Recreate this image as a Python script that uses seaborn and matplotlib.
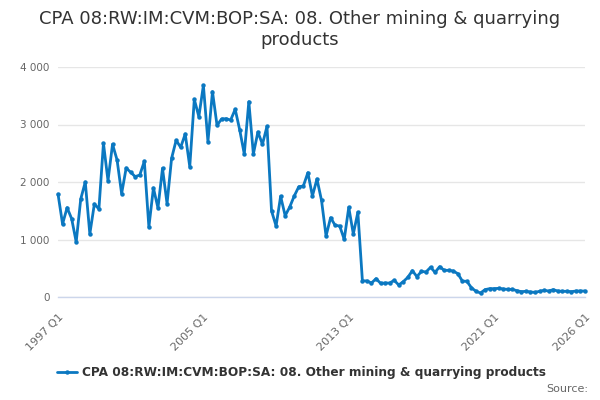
import numpy as np
import pandas as pd
import matplotlib
matplotlib.use("Agg")
import matplotlib.pyplot as plt
import seaborn as sns

start_year = 1997
end_year = 2026

values = [
    1790, 1270, 1553, 1362, 957, 1704, 2000, 1096, 1617, 1530,
    2673, 2023, 2656, 2383, 1797, 2243, 2168, 2093, 2122, 2360,
    1217, 1896, 1548, 2238, 1623, 2412, 2725, 2603, 2835, 2267,
    3438, 3136, 3681, 2703, 3571, 2986, 3096, 3101, 3078, 3264,
    2904, 2487, 3397, 2487, 2870, 2656, 2968, 1496, 1235, 1751,
    1414, 1565, 1757, 1918, 1930, 2162, 1757, 2052, 1681, 1061,
    1380, 1246, 1235, 1003, 1559, 1096, 1473, 284, 278, 243,
    319, 238, 243, 243, 290, 209, 267, 342, 458, 354,
    446, 435, 516, 429, 528, 464, 464, 452, 406, 278,
    272, 162, 99, 70, 128, 145, 145, 151, 139, 133,
    133, 110, 93, 99, 87, 81, 99, 116, 104, 128,
    104, 99, 99, 93, 104, 104, 104,
]

quarters = [f"{y} Q{q}" for y in range(start_year, end_year + 1) for q in range(1, 5)]
quarters = quarters[:len(values)]

label_quarters = ["1997 Q1", "2005 Q1", "2013 Q1", "2021 Q1", "2026 Q1"]
tick_quarters = quarters[::8] + [quarters[-1]]

series_name = "CPA 08:RW:IM:CVM:BOP:SA: 08. Other mining & quarrying products"

df = pd.DataFrame({"idx": np.arange(len(values)), "value": values, "quarter": quarters})

sns.set_style("white")
plt.rcParams["font.family"] = ["DejaVu Sans"]

fig = plt.figure(figsize=(6, 4), dpi=100)
ax = fig.add_axes([0.0967, 0.2575, 0.8783, 0.575])

blue = "#0b78c1"
sns.lineplot(
    data=df, x="idx", y="value", ax=ax,
    color=blue, linewidth=2, marker="o", markersize=3.2,
    markeredgewidth=0, label=series_name, clip_on=False,
)

ax.set_xlim(0, len(values) - 1)
ax.set_ylim(0, 4000)
ax.set_yticks([0, 1000, 2000, 3000, 4000])
ax.set_yticklabels([f"{v:,}".replace(",", " ") for v in [0, 1000, 2000, 3000, 4000]],
                   color="#666666", fontsize=7.5)
ax.yaxis.grid(True, color="#e6e6e6", linewidth=1)
ax.tick_params(axis="y", length=0, pad=6)

tick_pos = [quarters.index(q) for q in tick_quarters]
ax.set_xticks(tick_pos)
ax.set_xticklabels([q if q in label_quarters else "" for q in tick_quarters],
                   rotation=45, ha="right", rotation_mode="anchor",
                   color="#666666", fontsize=8)
ax.tick_params(axis="x", length=9, width=1, color="#ccd6eb", pad=2)

for s in ["top", "right", "left"]:
    ax.spines[s].set_visible(False)
ax.spines["bottom"].set_color("#ccd6eb")
ax.spines["bottom"].set_linewidth(1)

ax.set_xlabel("")
ax.set_ylabel("")

fig.suptitle("CPA 08:RW:IM:CVM:BOP:SA: 08. Other mining & quarrying\nproducts",
             x=0.5, y=0.975, fontsize=13, color="#333333", linespacing=1.2)

leg = ax.legend(loc="center", bbox_to_anchor=(0.462, -0.33), frameon=False,
                fontsize=8.7, handlelength=1.6, handletextpad=0.4)
for t in leg.get_texts():
    t.set_color("#333333")
    t.set_fontweight("bold")

fig.text(0.98, 0.015, "Source:", ha="right", va="bottom", fontsize=8, color="#666666")

fig.savefig("out.png", dpi=100)
